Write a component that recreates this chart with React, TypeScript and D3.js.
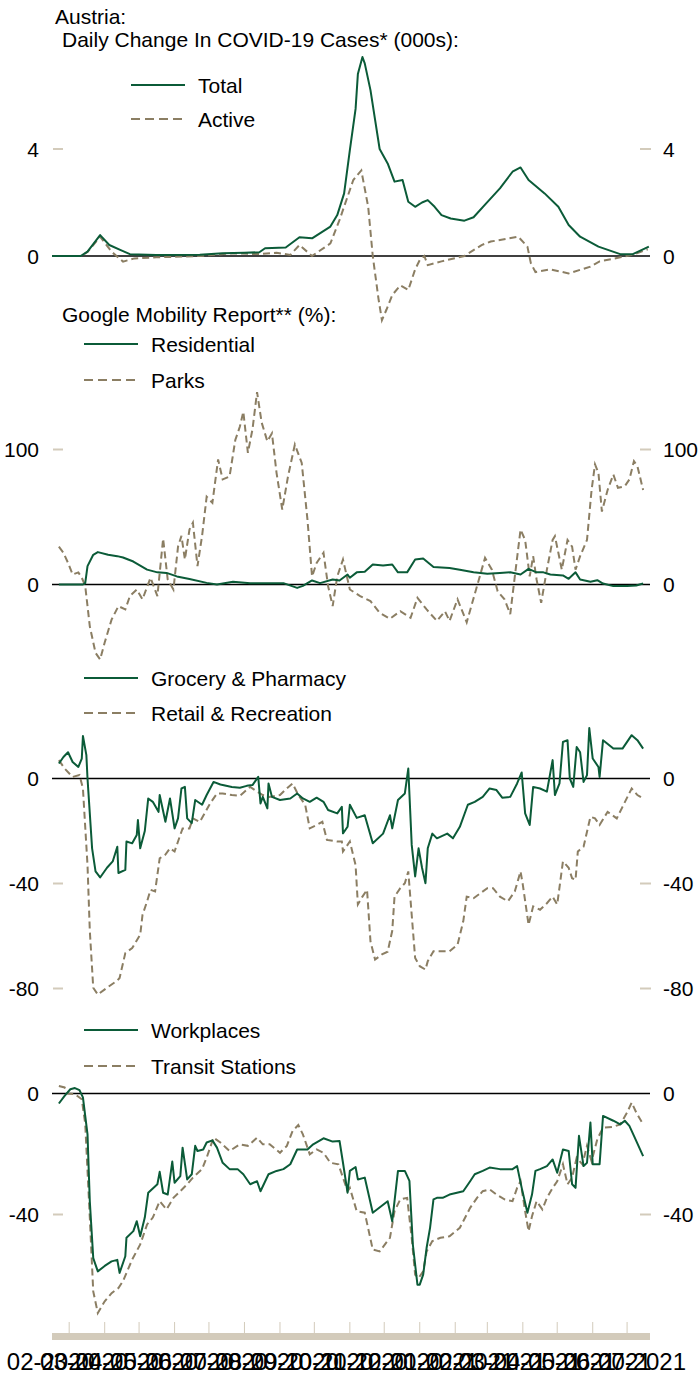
import React from "react";
import * as d3 from "d3";

// ---------- DATA (day offset from 2020-02-15, value) ----------
const START = new Date(2020, 1, 15);
const END = new Date(2021, 6, 21);

const monthLabels = [
  "02-2020", "03-2020", "04-2020", "05-2020", "06-2020", "07-2020", "08-2020", "09-2020", "10-2020",
  "11-2020", "12-2020", "01-2021", "02-2021", "03-2021", "04-2021", "05-2021", "06-2021", "07-2021",
];

// Daily change in COVID-19 cases (000s)
const totalCases: [number, number][] = [
  [0, 0], [25, 0], [31, 0.16], [42, 0.78], [50, 0.41], [60, 0.22], [68, 0.07], [91, 0.04], [129, 0.05],
  [149, 0.1], [168, 0.12], [181, 0.14], [186, 0.29], [204, 0.32], [216, 0.7], [227, 0.66], [243, 1.1],
  [249, 1.53], [255, 2.34], [260, 3.96], [265, 5.5], [267, 6.8], [271, 7.44], [273, 7.2], [278, 6.2],
  [282, 5.1], [286, 4.0], [293, 3.46], [299, 2.78], [306, 2.84], [311, 2.03], [317, 1.84], [323, 2.0],
  [328, 2.09], [334, 1.84], [340, 1.53], [348, 1.4], [360, 1.32], [368, 1.45], [379, 1.97], [391, 2.53],
  [402, 3.15], [409, 3.31], [416, 2.84], [430, 2.34], [442, 1.84], [451, 1.16], [461, 0.72], [477, 0.35],
  [496, 0.07], [507, 0.07], [521, 0.35],
];
const activeCases: [number, number][] = [
  [0, 0], [25, 0], [31, 0.15], [42, 0.72], [52, 0.16], [62, -0.21], [72, -0.09], [91, -0.05], [130, 0],
  [157, 0.1], [181, 0.07], [196, 0.12], [208, 0.04], [216, 0.41], [227, 0], [243, 0.47], [251, 1.35],
  [263, 2.84], [270, 3.2], [276, 1.84], [280, 0], [285, -1.6], [288, -2.4], [292, -2.0], [297, -1.46],
  [304, -1.1], [311, -1.27], [317, -0.5], [321, -0.15], [325, 0], [328, -0.34], [340, -0.2], [360, 0],
  [375, 0.41], [383, 0.54], [399, 0.66], [407, 0.72], [415, 0.35], [418, -0.27], [422, -0.6], [435, -0.5],
  [451, -0.65], [470, -0.4], [478, -0.2], [496, -0.05], [507, 0.05], [520, 0.25],
];

// Google mobility (%)
const residential: [number, number][] = [
  [6, 0], [27, 0], [29, 1], [31, 13.6], [36, 22], [40, 24], [49, 22], [57, 21], [62, 20], [71, 17], [83, 11],
  [92, 9], [100, 8.6], [109, 6], [120, 4], [135, 1.2], [144, 0], [158, 2], [173, 1], [188, 1], [202, 1],
  [214, -2.5], [219, -1], [227, 3], [234, 1], [245, 3.7], [251, 3], [258, 7.4], [260, 5], [266, 9], [273, 9.4],
  [280, 14.8], [289, 14], [297, 14.8], [302, 9], [310, 9], [317, 18.5], [324, 19.3], [333, 13], [347, 12.3],
  [356, 11], [368, 9], [380, 8], [391, 8.6], [400, 9], [409, 7.4], [416, 11.6], [423, 9], [429, 9], [435, 7.4],
  [446, 6.7], [451, 4.2], [457, 9], [461, 3.7], [470, 2], [476, 3.2], [481, 0.7], [490, -1.2], [502, -1.2],
  [510, -0.7], [516, 0.7],
];
const parks: [number, number][] = [
  [6, 28], [10, 23.5], [14, 16], [18, 7.4], [23, 9], [26, 5], [29, -1], [33, -31], [38, -50.6], [42, -55.5],
  [46, -43], [52, -26], [58, -16], [64, -18.5], [68, -8.6], [74, -3.7], [79, -11], [86, 5], [92, -8.6],
  [97, 34], [101, 3.7], [106, -3.7], [110, 28], [113, 36], [116, 18.5], [120, 40.7], [123, 45.7], [127, 13.6],
  [131, 36], [135, 65], [140, 60.5], [145, 92.6], [149, 77.8], [155, 80], [160, 107], [164, 117], [167, 128],
  [171, 97.5], [175, 115], [179, 142.5], [183, 120], [188, 106], [192, 112], [196, 82.7], [201, 55.5],
  [206, 80], [212, 103.7], [218, 90], [223, 48], [227, 6], [231, 16], [237, 23.5], [241, -1.2], [245, -16],
  [249, 6], [254, 18.5], [260, -3.7], [269, -8.6], [278, -12.3], [286, -21], [295, -25.4], [304, -19.8],
  [313, -24.7], [319, -9.9], [327, -18.5], [336, -27], [343, -19.8], [347, -27], [354, -11], [362, -28],
  [371, -1.2], [378, 19.8], [384, 11], [389, -5], [395, -11], [400, -22], [404, 6], [409, 40.7], [413, 33],
  [417, 6], [420, 21], [423, 3.7], [427, -13.6], [432, 11], [437, 33], [439, 35.8], [442, 23.5], [445, 11],
  [450, 33], [454, 28], [457, 11], [461, 21], [467, 33], [471, 70], [474, 89], [477, 82.7], [480, 54],
  [485, 70], [490, 81.5], [494, 71.6], [500, 72.8], [504, 77.8], [508, 91.4], [511, 87.7], [516, 70],
];
const grocery: [number, number][] = [
  [6, 5.7], [10, 8.2], [14, 10], [18, 6.3], [23, 4.4], [26, 7.6], [27, 16.2], [30, 8.9], [31, 0], [35, -26.6],
  [38, -35.4], [42, -37.7], [48, -34], [53, -31.6], [57, -26], [58, -36], [64, -34.8], [65, -24], [70, -24.7],
  [74, -21.5], [75, -15.8], [77, -26.6], [81, -20], [84, -7.6], [88, -8.9], [93, -12.7], [94, -6.3],
  [99, -16.5], [103, -7.6], [107, -19], [110, -15.2], [113, -3.8], [116, -3.2], [118, -15.2], [122, -17],
  [125, -8.2], [131, -10], [135, -6.3], [141, -1.3], [147, -2.3], [157, -3.2], [164, -3.5], [170, -2.8],
  [175, -2.5], [180, 0.6], [182, -9.5], [184, -7], [188, -11.4], [189, -1.9], [192, -7], [199, -8.2],
  [208, -7.6], [214, -5.7], [219, -7.6], [225, -8.9], [231, -7.3], [237, -8.9], [241, -12], [249, -13.3],
  [253, -10.8], [254, -20.9], [258, -18.4], [260, -10], [266, -15], [273, -14], [280, -24.7], [289, -21],
  [295, -14], [297, -19], [302, -8.2], [308, -5.7], [311, 3.8], [314, -25.3], [317, -37.3], [320, -26.6],
  [323, -34], [326, -39.9], [328, -26.6], [332, -21], [336, -22.8], [345, -21], [350, -22.8], [356, -18.4],
  [363, -10], [369, -8.9], [376, -7], [382, -3.8], [388, -4.4], [393, -7.3], [400, -7], [406, -1.9],
  [410, 2.3], [413, -13.3], [417, -17.7], [420, -3.2], [426, -3.8], [432, -5], [437, 7], [439, -6.3],
  [443, -1.9], [446, 13.9], [450, 14.6], [452, 0], [455, -3.2], [458, 12], [461, 10], [464, -1.3],
  [467, 1.3], [469, 19.2], [472, 7.6], [477, 4.4], [478, 0.6], [481, 14.6], [490, 11.4], [498, 11.4],
  [506, 16.5], [511, 14.6], [516, 11.4],
];
const retail: [number, number][] = [
  [6, 7], [11, 3.8], [18, 0.6], [24, 1.3], [27, -3.8], [31, -33], [33, -58], [36, -79.7], [40, -82.3],
  [48, -79.7], [57, -77], [59, -76], [64, -66.5], [70, -64.6], [77, -59.5], [79, -52], [83, -46.8],
  [86, -42.4], [90, -43], [94, -30.4], [99, -29], [103, -26.6], [107, -27.8], [110, -24], [114, -19],
  [120, -19], [123, -15.2], [129, -16.5], [134, -12.7], [138, -9.5], [144, -5.7], [149, -5.7], [157, -6.3],
  [164, -6.6], [173, -3.2], [179, -5], [184, -6.3], [190, -7], [199, -6.3], [205, -3.8], [210, -1.9],
  [215, -6.3], [221, -10], [225, -19], [231, -17.7], [236, -16.5], [240, -23.4], [249, -24], [253, -24],
  [254, -27.8], [258, -25.3], [260, -24], [265, -33], [267, -48], [271, -45], [275, -42.4], [278, -62],
  [282, -69], [288, -67], [293, -66], [297, -58], [299, -45], [304, -41.8], [308, -39.9], [311, -35.4],
  [314, -52], [317, -68.4], [321, -71.5], [326, -72.8], [328, -69.6], [333, -65.8], [339, -65.8],
  [347, -65.8], [354, -63.3], [359, -54.4], [362, -45], [368, -45.6], [374, -43.7], [380, -41.8],
  [385, -41.8], [391, -45], [398, -46.8], [404, -43], [409, -35.4], [411, -40.5], [416, -55.7], [420, -48.7],
  [426, -50], [432, -47.5], [437, -45], [441, -48], [446, -31.6], [451, -34], [454, -38], [457, -38.6],
  [459, -27.8], [464, -26], [470, -14.6], [474, -15.2], [478, -17.7], [485, -12.7], [493, -15.2],
  [498, -10.8], [506, -3.8], [511, -6.3], [516, -7.6],
];
const workplaces: [number, number][] = [
  [6, -3.3], [11, -0.8], [16, 1.4], [20, 1.8], [24, 1.1], [27, -1.3], [31, -13.5], [33, -35.6], [36, -54.4],
  [40, -58.8], [46, -57], [52, -55.5], [57, -55], [59, -59.3], [64, -53.8], [65, -47.7], [71, -45.5],
  [74, -42.2], [77, -47.2], [81, -41], [84, -32.8], [92, -30], [94, -25.9], [97, -32.8], [101, -33.4],
  [105, -22.5], [107, -29.5], [112, -27.3], [114, -17.9], [118, -28.4], [122, -26.7], [125, -17.3], [127, -19],
  [132, -18.5], [135, -16.2], [140, -15.5], [144, -17.9], [149, -22.9], [155, -25], [162, -25], [167, -26.7],
  [173, -30], [179, -29], [182, -32.3], [189, -26.7], [196, -25.6], [202, -25], [208, -23.4], [214, -18.5],
  [223, -18.5], [228, -16.8], [237, -14.8], [245, -15.9], [251, -15.7], [254, -22.9], [258, -32.8],
  [260, -25.6], [265, -24.3], [267, -28.4], [273, -27.8], [280, -39.4], [293, -35.6], [297, -42.2],
  [302, -25.6], [308, -25.6], [312, -28.9], [315, -50], [319, -63.2], [321, -63.2], [324, -59.9], [327, -51],
  [330, -44.4], [333, -35], [336, -34.5], [341, -34.5], [347, -33.4], [359, -32.3], [365, -29], [369, -26.7],
  [376, -25.6], [382, -24.5], [391, -25], [402, -25], [406, -24], [410, -31.2], [415, -39.4], [419, -33.4],
  [422, -25.6], [426, -25], [432, -24], [437, -21.8], [441, -26.2], [446, -18.5], [451, -19], [454, -30],
  [457, -31.2], [460, -14], [464, -24], [467, -22.9], [470, -9.6], [472, -23.4], [478, -23.4], [481, -7.4],
  [490, -9], [496, -10.2], [500, -9], [504, -10.7], [508, -14], [516, -20.7],
];
const transit: [number, number][] = [
  [6, 2.5], [11, 2], [14, 0], [20, -0.2], [26, -1.9], [29, -10], [33, -41], [36, -65.4], [40, -72.6],
  [46, -68.7], [52, -66], [58, -64.3], [62, -62], [70, -54.9], [77, -49.9], [83, -43.3], [88, -41],
  [94, -35.6], [100, -38.3], [106, -34.5], [112, -32.3], [118, -30], [123, -27.8], [131, -25], [135, -21.2],
  [141, -14.6], [147, -16.2], [155, -19], [164, -16.8], [171, -17.3], [179, -14.6], [184, -16.8], [190, -16.8],
  [199, -19.6], [205, -17.3], [210, -12.4], [215, -10.4], [219, -13.5], [225, -20.1], [231, -18.5],
  [237, -19.6], [243, -22.9], [250, -23.4], [254, -27.8], [258, -32.3], [260, -31.2], [266, -38.9],
  [273, -39.4], [280, -51.6], [286, -52.2], [295, -47.7], [299, -38.9], [304, -35], [310, -34.5], [314, -47.7],
  [317, -59.9], [320, -61], [324, -58.8], [327, -52.2], [332, -48.8], [339, -47.7], [347, -47.2], [356, -44.4],
  [365, -37.8], [371, -34.5], [376, -32.3], [382, -31.7], [388, -33.4], [395, -35], [402, -35.6], [406, -31.2],
  [409, -29], [413, -38.9], [416, -45.5], [419, -40.6], [423, -35.6], [428, -38.3], [432, -34.5], [437, -31.2],
  [441, -29], [446, -23.4], [450, -30], [454, -27.8], [458, -21.2], [463, -23.4], [467, -17.3], [471, -22.4],
  [476, -15.1], [481, -11.3], [490, -11], [496, -10.2], [502, -6.3], [506, -3], [510, -6.3], [516, -10.2],
];

const covidTicks = [0, 4];
const mobTicksA = [0, 100];
const mobTicksB = [0, -40, -80];
const mobTicksC = [0, -40];

// ---------- STYLE ----------
const GREEN = "#0b5b38";
const KHAKI = "#8b7e63";
const LIGHT = "#d3cbbb";
const FONT = "'Liberation Sans', Arial, sans-serif";
const FS = 21;

const X0 = 52;
const X1 = 650;

type Panel = {
  solid: [number, number][];
  dashed: [number, number][];
  domain: [number, number];
  range: [number, number];
  ticks: number[];
  solidLabel: string;
  dashedLabel: string;
  legendX: number;
  legendY: [number, number];
};

const panels: Panel[] = [
  { solid: totalCases, dashed: activeCases, domain: [0, 4], range: [256, 149], ticks: covidTicks,
    solidLabel: "Total", dashedLabel: "Active", legendX: 131, legendY: [85, 119] },
  { solid: residential, dashed: parks, domain: [0, 100], range: [584.5, 449.5], ticks: mobTicksA,
    solidLabel: "Residential", dashedLabel: "Parks", legendX: 84, legendY: [344, 380] },
  { solid: grocery, dashed: retail, domain: [0, -40], range: [778.5, 883.5], ticks: mobTicksB,
    solidLabel: "Grocery & Pharmacy", dashedLabel: "Retail & Recreation", legendX: 84, legendY: [678, 713] },
  { solid: workplaces, dashed: transit, domain: [0, -40], range: [1093.5, 1214.5], ticks: mobTicksC,
    solidLabel: "Workplaces", dashedLabel: "Transit Stations", legendX: 84, legendY: [1030, 1066] },
];

export default function App() {
  const x = d3.scaleTime().domain([START, END]).range([X0, X1]);
  const dayX = (d: number) => x(d3.timeDay.offset(START, d));
  const monthTicks = d3.timeMonth.range(new Date(2020, 2, 1), new Date(2021, 6, 2));
  const labelDates = monthLabels.map((_, i) => d3.timeDay.offset(d3.timeMonth.offset(new Date(2020, 1, 1), i), 13));

  return (
    <svg width={699} height={1374} style={{ position: "absolute", left: 0, top: 0, background: "#fff" }}
      fontFamily={FONT}>
      <text x={55} y={24} fontSize={FS} fill="#000">Austria:</text>
      <text x={62} y={47} fontSize={FS} fill="#000">Daily Change In COVID-19 Cases* (000s):</text>
      <text x={62} y={322} fontSize={FS} fill="#000">Google Mobility Report** (%):</text>

      {panels.map((p, i) => {
        const y = d3.scaleLinear().domain(p.domain).range(p.range);
        const line = d3.line<[number, number]>().x((d) => dayX(d[0])).y((d) => y(d[1]));
        return (
          <g key={i}>
            {p.ticks.map((t) => (
              <g key={t}>
                {t !== 0 && (
                  <>
                    <line x1={53} x2={63} y1={y(t)} y2={y(t)} stroke={LIGHT} strokeWidth={2} />
                    <line x1={640} x2={651} y1={y(t)} y2={y(t)} stroke={LIGHT} strokeWidth={2} />
                  </>
                )}
                <text x={39} y={y(t) + 7.5} fontSize={FS} textAnchor="end">{t}</text>
                <text x={663} y={y(t) + 7.5} fontSize={FS} textAnchor="start">{t}</text>
              </g>
            ))}
            <line x1={X0} x2={X1} y1={y(0)} y2={y(0)} stroke="#000" strokeWidth={1.6} />
            <path d={line(p.dashed) || ""} fill="none" stroke={KHAKI} strokeWidth={2} strokeDasharray="7,4" />
            <path d={line(p.solid) || ""} fill="none" stroke={GREEN} strokeWidth={2} strokeLinejoin="round" />
            <line x1={p.legendX} x2={p.legendX + 54} y1={p.legendY[0]} y2={p.legendY[0]} stroke={GREEN} strokeWidth={2.2} />
            <text x={p.legendX + 67} y={p.legendY[0] + 7.5} fontSize={FS}>{p.solidLabel}</text>
            <line x1={p.legendX} x2={p.legendX + 54} y1={p.legendY[1]} y2={p.legendY[1]} stroke={KHAKI} strokeWidth={2.2} strokeDasharray="9,5" />
            <text x={p.legendX + 67} y={p.legendY[1] + 7.5} fontSize={FS}>{p.dashedLabel}</text>
          </g>
        );
      })}

      {monthTicks.map((m, i) => (
        <line key={i} x1={x(m)} x2={x(m)} y1={1322} y2={1334} stroke={LIGHT} strokeWidth={1} />
      ))}
      <rect x={X0} y={1333} width={X1 - X0} height={7} fill={LIGHT} />
      {monthLabels.map((lab, i) => (
        <text key={lab} x={x(labelDates[i])} y={1370} fontSize={24} textAnchor="middle">{lab}</text>
      ))}
    </svg>
  );
}
